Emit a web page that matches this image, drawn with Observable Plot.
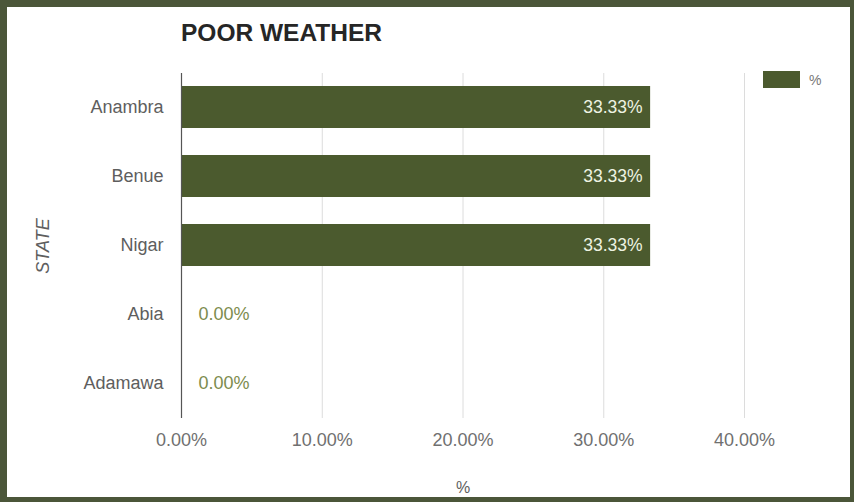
<!DOCTYPE html>
<html>
<head>
<meta charset="utf-8">
<script src="https://cdn.jsdelivr.net/npm/d3@7"></script>
<script src="https://cdn.jsdelivr.net/npm/@observablehq/plot@0.6"></script>
<style>
  html, body { margin: 0; padding: 0; background: #fff; }
  #frame {
    position: relative;
    width: 854px; height: 502px; box-sizing: border-box;
    border-style: solid; border-color: #4b5639;
    border-width: 7px 4px 5px 7px;
    background: #fff;
    font-family: "Liberation Sans", Arial, sans-serif;
  }
  #title {
    height: 50px; box-sizing: border-box;
    padding-left: 174px; padding-top: 14px;
    font-size: 24.5px; line-height: 24px; font-weight: bold; color: #262626;
  }
  #legend {
    position: absolute; left: 756px; top: 64px;
    display: flex; align-items: center; gap: 9px;
    font-size: 14px; color: #777;
  }
  #legend .sw { width: 37px; height: 17px; background: #4b5a2e; }
  svg { display: block; }
</style>
</head>
<body>
<div id="frame">
  <div id="title"></div>
  <div id="chart"></div>
  <div id="legend"><div class="sw"></div><span id="legtext"></span></div>
</div>
<script>
const title = "POOR WEATHER";
const states = ["Anambra", "Benue", "Nigar", "Abia", "Adamawa"];
const values = [0.3333, 0.3333, 0.3333, 0.0, 0.0];
const xTicks = [0, 0.1, 0.2, 0.3, 0.4];
const seriesName = "%";
const yLabel = "STATE";
const xLabel = "%";

const data = states.map((s, i) => ({state: s, value: values[i]}));
const fmt = d3.format(".2%");
const barColor = "#4b5a2e";

document.getElementById("title").textContent = title;
document.getElementById("legtext").textContent = seriesName;

const chart = Plot.plot({
  width: 843,
  height: 440,
  marginLeft: 174,
  marginRight: 106,
  marginTop: 16,
  marginBottom: 79,
  style: {fontFamily: "'Liberation Sans', Arial, sans-serif", background: "#fff"},
  x: {domain: [0, 0.4]},
  y: {domain: states, paddingInner: 0.39, paddingOuter: 0.195},
  marks: [
    Plot.gridX(xTicks.filter(d => d > 0), {stroke: "#dcdcdc", strokeOpacity: 1}),
    Plot.barX(data, {x: "value", y: "state", fill: barColor}),
    Plot.ruleX([0], {stroke: "#555", strokeWidth: 1.2}),
    Plot.axisX({ticks: xTicks, tickFormat: fmt, tickSize: 0, tickPadding: 15, fontSize: 18, fill: "#707070", label: null}),
    Plot.axisY({tickSize: 0, tickPadding: 18, fontSize: 18, fill: "#5e5e5e", label: null}),
    Plot.text(data.filter(d => d.value > 0), {x: "value", y: "state", text: d => fmt(d.value), textAnchor: "end", dx: -8, fill: "#eef3e2", fontSize: 17.5}),
    Plot.text(data.filter(d => d.value === 0), {x: "value", y: "state", text: d => fmt(d.value), textAnchor: "start", dx: 17, fill: "#7d8c4e", fontSize: 18}),
    Plot.text([yLabel], {frameAnchor: "left", dx: -138, rotate: -90, textAnchor: "middle", lineAnchor: "middle", text: d => d, fontSize: 18, fontStyle: "italic", fill: "#5e5e5e"}),
    Plot.text([xLabel], {frameAnchor: "bottom", dy: 69, lineAnchor: "middle", text: d => d, fontSize: 16, fill: "#5e5e5e"})
  ]
});
document.getElementById("chart").appendChild(chart);
</script>
</body>
</html>
